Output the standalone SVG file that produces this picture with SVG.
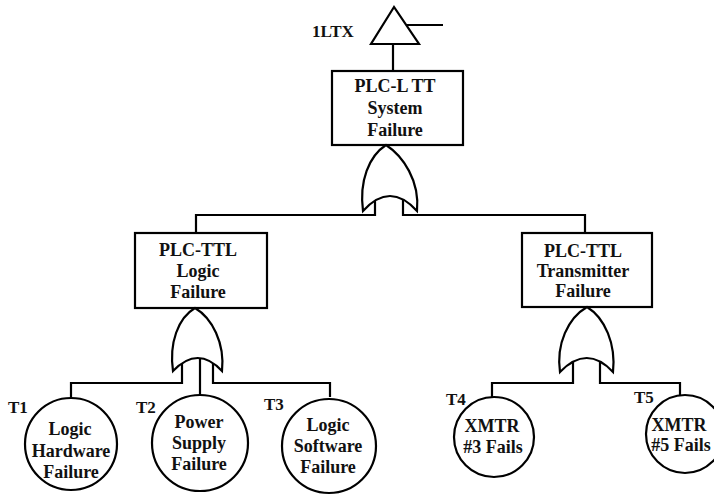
<svg xmlns="http://www.w3.org/2000/svg" width="714" height="498" viewBox="0 0 714 498" font-family="'Liberation Serif', 'DejaVu Serif', serif">
  <style>
    .ln { fill: none; stroke: #000; stroke-width: 2.2; stroke-linejoin: miter; }
    .shp { fill: #fff; stroke: #000; stroke-width: 2.2; }
    .txt { font-weight: bold; font-size: 18px; fill: #111; text-anchor: middle; }
    .tag { font-weight: bold; font-size: 17px; fill: #111; }
  </style>
  <rect width="714" height="498" fill="#fff"/>

  <!-- connectors (drawn first so the gate bodies cover their upper ends) -->
  <g id="connectors">
    <path class="ln" d="M393,44 V71"/>
    <path class="ln" d="M406,25 H443"/>
    <!-- top OR gate to the two intermediate events -->
    <path class="ln" d="M375,198 V215 H196 V233"/>
    <path class="ln" d="M403,198 V215 H585 V233"/>
    <!-- logic OR gate to T1, T2, T3 -->
    <path class="ln" d="M182,362 V383 H71 V398"/>
    <path class="ln" d="M200,356 V395"/>
    <path class="ln" d="M213,362 V383 H330 V397"/>
    <!-- transmitter OR gate to T4, T5 -->
    <path class="ln" d="M573,362 V383 H492 V397"/>
    <path class="ln" d="M600,362 V383 H680 V395"/>
  </g>

  <!-- top event -->
  <g id="top-transfer">
    <polygon class="shp" points="394,7 371,44 419,44"/>
    <text class="tag" x="312" y="37">1LTX</text>
  </g>
  <g id="top-event">
    <rect class="shp" x="332" y="71" width="131" height="74"/>
    <text class="txt" x="395" y="92">PLC-L TT</text>
    <text class="txt" x="395" y="114">System</text>
    <text class="txt" x="395" y="136">Failure</text>
  </g>
  <g id="gate-top">
    <path class="shp" d="M363,211 C359,181 369,156 386,145 C403,156 420,181 417,211 Q390,181 363,211 Z"/>
  </g>

  <!-- intermediate events -->
  <g id="logic-failure">
    <rect class="shp" x="135" y="233" width="132" height="75"/>
    <text class="txt" x="198" y="256">PLC-TTL</text>
    <text class="txt" x="198" y="277">Logic</text>
    <text class="txt" x="198" y="298">Failure</text>
  </g>
  <g id="gate-logic">
    <path class="shp" d="M173,371 C169,343 178,318 195,308 C212,318 225,343 222,371 Q198,345 173,371 Z"/>
  </g>

  <g id="transmitter-failure">
    <rect class="shp" x="522" y="233" width="130" height="74"/>
    <text class="txt" x="583" y="257">PLC-TTL</text>
    <text class="txt" x="583" y="277">Transmitter</text>
    <text class="txt" x="583" y="297">Failure</text>
  </g>
  <g id="gate-transmitter">
    <path class="shp" d="M560,372 C556,344 568,318 587,307 C605,318 616,344 613,372 Q587,344 560,372 Z"/>
  </g>

  <!-- basic events -->
  <g id="T1">
    <circle class="shp" cx="71" cy="444" r="46"/>
    <text class="tag" x="8" y="413">T1</text>
    <text class="txt" x="70" y="435">Logic</text>
    <text class="txt" x="71" y="457">Hardware</text>
    <text class="txt" x="71" y="478">Failure</text>
  </g>
  <g id="T2">
    <circle class="shp" cx="200" cy="443" r="48"/>
    <text class="tag" x="136" y="413">T2</text>
    <text class="txt" x="199" y="428">Power</text>
    <text class="txt" x="199" y="449">Supply</text>
    <text class="txt" x="199" y="470">Failure</text>
  </g>
  <g id="T3">
    <circle class="shp" cx="329" cy="446" r="47"/>
    <text class="tag" x="264" y="410">T3</text>
    <text class="txt" x="328" y="431">Logic</text>
    <text class="txt" x="328" y="452">Software</text>
    <text class="txt" x="328" y="473">Failure</text>
  </g>
  <g id="T4">
    <circle class="shp" cx="494" cy="437" r="40"/>
    <text class="tag" x="446" y="405">T4</text>
    <text class="txt" x="492" y="432">XMTR</text>
    <text class="txt" x="493" y="453">#3 Fails</text>
  </g>
  <g id="T5">
    <circle class="shp" cx="685" cy="434" r="39"/>
    <text class="tag" x="634" y="403">T5</text>
    <text class="txt" x="679" y="431">XMTR</text>
    <text class="txt" x="681" y="451">#5 Fails</text>
  </g>
</svg>
